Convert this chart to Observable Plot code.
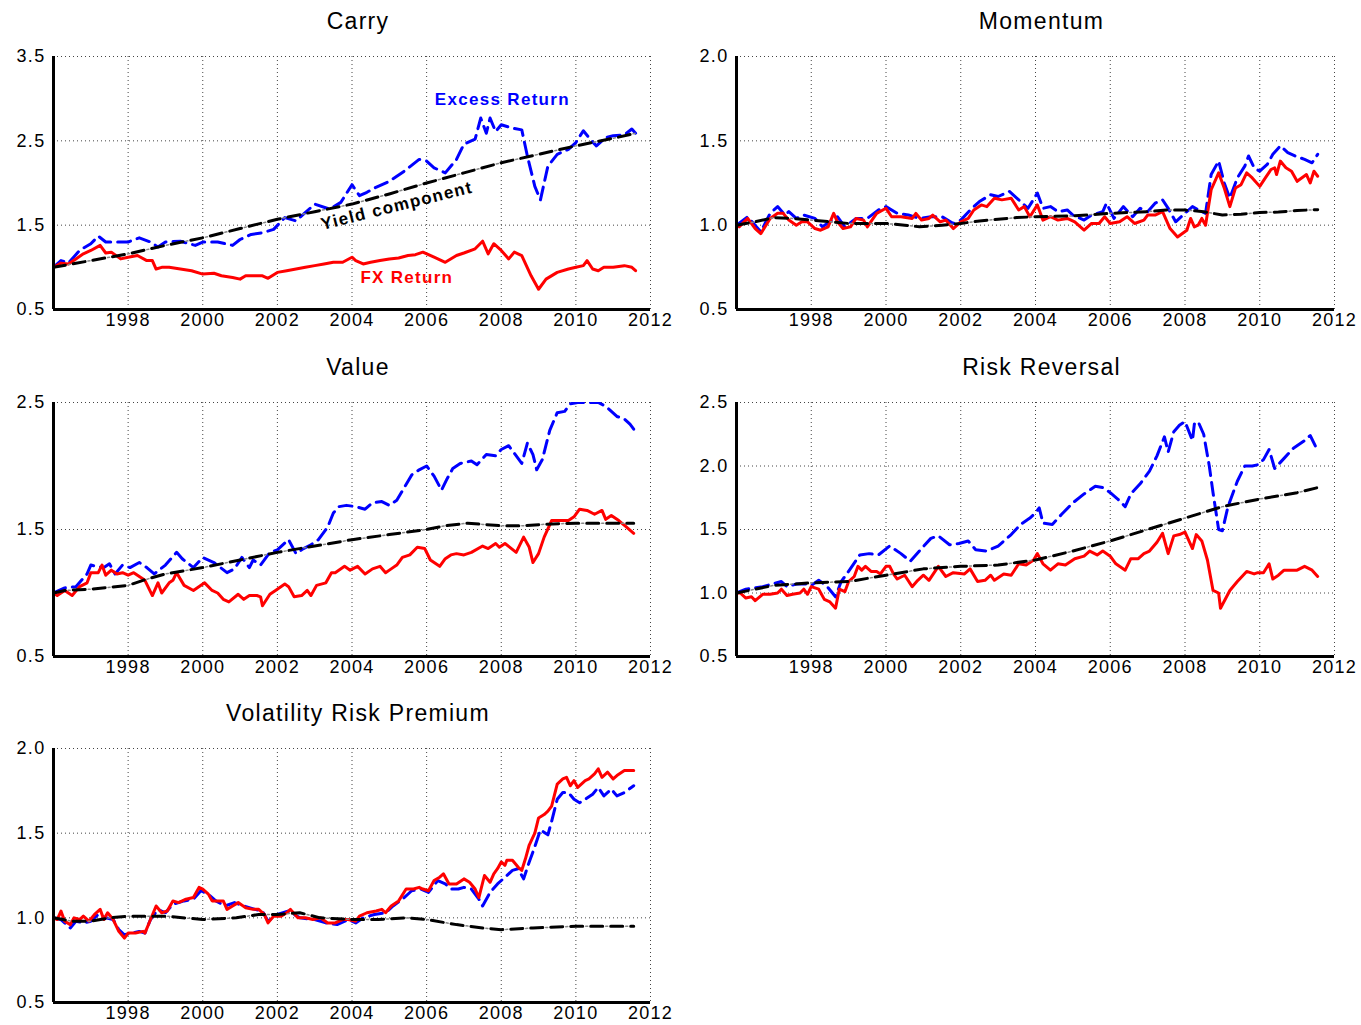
<!DOCTYPE html>
<html><head><meta charset="utf-8">
<script src="https://cdn.jsdelivr.net/npm/d3@7"></script>
<script src="https://cdn.jsdelivr.net/npm/@observablehq/plot@0.6"></script>
<style>
body{margin:0;background:#fff;}
#root{position:relative;width:1361px;height:1025px;overflow:hidden;}
.panel{position:absolute;}
</style></head><body><div id="root"></div>
<script>
// ---------- data: [year, cumulative value] ----------
const xTicks = [1998, 2000, 2002, 2004, 2006, 2008, 2010, 2012];

const carryExcess = [[1996.0,1.0],[1996.2,1.08],[1996.4,1.05],[1996.7,1.2],[1997.0,1.28],[1997.2,1.37],[1997.4,1.3],[1997.6,1.3],[1998.0,1.3],[1998.3,1.35],[1998.6,1.3],[1998.8,1.24],[1999.0,1.3],[1999.4,1.31],[1999.8,1.26],[2000.0,1.3],[2000.4,1.3],[2000.8,1.26],[2001.0,1.33],[2001.3,1.39],[2001.6,1.41],[2001.9,1.45],[2002.2,1.59],[2002.5,1.55],[2002.7,1.63],[2003.0,1.75],[2003.4,1.69],[2003.7,1.77],[2004.0,1.98],[2004.2,1.85],[2004.4,1.89],[2004.6,1.94],[2005.0,2.02],[2005.4,2.14],[2005.8,2.28],[2006.0,2.26],[2006.2,2.18],[2006.5,2.12],[2006.8,2.28],[2007.0,2.46],[2007.3,2.52],[2007.45,2.77],[2007.6,2.59],[2007.7,2.77],[2007.85,2.61],[2008.0,2.69],[2008.3,2.65],[2008.55,2.63],[2008.7,2.32],[2008.9,1.96],[2009.05,1.8],[2009.25,2.2],[2009.5,2.34],[2009.8,2.4],[2010.0,2.48],[2010.2,2.62],[2010.4,2.51],[2010.55,2.44],[2010.8,2.54],[2011.0,2.56],[2011.3,2.57],[2011.5,2.64],[2011.6,2.59]];
const carryFX = [[1996.0,1.0],[1996.2,1.05],[1996.4,1.04],[1996.6,1.1],[1996.8,1.16],[1997.0,1.2],[1997.25,1.26],[1997.4,1.17],[1997.55,1.18],[1997.8,1.1],[1998.0,1.12],[1998.25,1.14],[1998.5,1.08],[1998.65,1.08],[1998.75,0.98],[1998.9,1.0],[1999.1,1.0],[1999.4,0.98],[1999.7,0.96],[2000.0,0.92],[2000.3,0.93],[2000.5,0.9],[2000.8,0.88],[2001.0,0.86],[2001.15,0.9],[2001.4,0.9],[2001.6,0.9],[2001.75,0.87],[2002.0,0.94],[2002.25,0.96],[2002.5,0.98],[2002.75,1.0],[2003.0,1.02],[2003.25,1.04],[2003.5,1.06],[2003.75,1.06],[2004.0,1.12],[2004.1,1.08],[2004.3,1.04],[2004.5,1.06],[2004.75,1.08],[2005.0,1.1],[2005.25,1.11],[2005.5,1.14],[2005.7,1.15],[2005.9,1.18],[2006.2,1.12],[2006.5,1.06],[2006.8,1.14],[2007.0,1.17],[2007.3,1.22],[2007.5,1.31],[2007.65,1.16],[2007.8,1.28],[2008.0,1.2],[2008.2,1.1],[2008.35,1.18],[2008.55,1.14],[2008.8,0.9],[2009.0,0.74],[2009.2,0.86],[2009.5,0.94],[2009.8,0.98],[2010.0,1.0],[2010.2,1.02],[2010.3,1.08],[2010.45,0.98],[2010.6,0.96],[2010.75,1.0],[2011.0,1.0],[2011.3,1.02],[2011.5,1.0],[2011.6,0.96]];
const carryYield = [[1996.0,1.0],[1997.0,1.08],[1998.0,1.16],[1999.0,1.26],[2000.0,1.35],[2001.0,1.46],[2002.0,1.57],[2003.0,1.66],[2004.0,1.75],[2005.0,1.87],[2006.0,2.0],[2007.0,2.12],[2008.0,2.24],[2009.0,2.34],[2010.0,2.44],[2011.0,2.53],[2011.6,2.59]];

const momExcess = [[1996.0,1.0],[1996.3,1.05],[1996.65,0.96],[1996.9,1.07],[1997.1,1.11],[1997.3,1.06],[1997.4,1.08],[1997.6,1.04],[1997.8,1.06],[1998.1,1.04],[1998.3,0.99],[1998.5,1.02],[1998.7,1.05],[1998.9,0.99],[1999.2,1.04],[1999.5,1.04],[1999.8,1.09],[2000.0,1.11],[2000.3,1.07],[2000.6,1.06],[2000.9,1.04],[2001.2,1.05],[2001.5,1.05],[2001.8,1.01],[2002.0,1.03],[2002.3,1.1],[2002.5,1.14],[2002.8,1.18],[2003.0,1.17],[2003.3,1.2],[2003.6,1.14],[2003.8,1.1],[2004.05,1.19],[2004.2,1.1],[2004.4,1.11],[2004.6,1.08],[2004.85,1.09],[2005.0,1.06],[2005.3,1.03],[2005.5,1.06],[2005.8,1.08],[2005.9,1.13],[2006.1,1.04],[2006.35,1.11],[2006.6,1.05],[2006.8,1.1],[2007.0,1.08],[2007.2,1.13],[2007.4,1.15],[2007.55,1.1],[2007.75,1.02],[2008.0,1.07],[2008.2,1.11],[2008.45,1.08],[2008.55,1.07],[2008.7,1.3],[2008.9,1.38],[2009.05,1.25],[2009.2,1.16],[2009.4,1.28],[2009.6,1.35],[2009.7,1.41],[2009.85,1.34],[2010.0,1.32],[2010.2,1.36],[2010.35,1.42],[2010.55,1.47],[2010.75,1.43],[2010.95,1.41],[2011.2,1.39],[2011.4,1.37],[2011.55,1.42]];
const momFX = [[1996.0,1.0],[1996.07,0.99],[1996.3,1.04],[1996.5,0.98],[1996.65,0.95],[1996.9,1.04],[1997.1,1.07],[1997.25,1.07],[1997.4,1.03],[1997.6,1.0],[1997.75,1.02],[1997.9,1.02],[1998.1,0.98],[1998.25,0.97],[1998.45,0.99],[1998.6,1.07],[1998.7,1.02],[1998.85,0.98],[1999.05,0.99],[1999.2,1.04],[1999.4,1.03],[1999.5,0.99],[1999.75,1.07],[2000.0,1.1],[2000.15,1.05],[2000.4,1.05],[2000.7,1.04],[2000.8,1.07],[2000.95,1.03],[2001.15,1.04],[2001.25,1.06],[2001.45,1.02],[2001.6,1.03],[2001.8,0.98],[2002.0,1.02],[2002.2,1.04],[2002.35,1.09],[2002.55,1.12],[2002.7,1.11],[2002.9,1.16],[2003.1,1.15],[2003.35,1.16],[2003.55,1.09],[2003.7,1.11],[2003.85,1.05],[2004.05,1.12],[2004.2,1.03],[2004.4,1.05],[2004.6,1.03],[2004.85,1.04],[2005.05,1.02],[2005.3,0.97],[2005.5,1.01],[2005.7,1.01],[2005.85,1.05],[2006.0,1.01],[2006.25,1.02],[2006.45,1.05],[2006.65,1.01],[2006.9,1.03],[2007.0,1.06],[2007.2,1.06],[2007.4,1.08],[2007.6,0.98],[2007.8,0.93],[2008.05,0.97],[2008.15,1.04],[2008.25,0.99],[2008.35,1.0],[2008.45,1.04],[2008.55,1.0],[2008.7,1.21],[2008.9,1.31],[2009.05,1.22],[2009.2,1.11],[2009.35,1.22],[2009.5,1.24],[2009.65,1.31],[2009.8,1.28],[2010.0,1.23],[2010.15,1.28],[2010.3,1.33],[2010.4,1.34],[2010.45,1.3],[2010.55,1.38],[2010.7,1.34],[2010.85,1.32],[2011.0,1.26],[2011.25,1.3],[2011.35,1.25],[2011.45,1.32],[2011.55,1.29]];
const momYield = [[1996.0,1.0],[1996.5,1.02],[1997.0,1.045],[1997.5,1.04],[1998.0,1.03],[1998.5,1.02],[1999.0,1.01],[1999.5,1.01],[2000.0,1.01],[2000.5,1.0],[2000.9,0.99],[2001.5,1.0],[2002.0,1.01],[2002.5,1.025],[2003.0,1.035],[2003.5,1.045],[2004.0,1.05],[2005.0,1.055],[2006.0,1.07],[2006.5,1.075],[2007.0,1.08],[2007.5,1.09],[2008.0,1.09],[2008.5,1.08],[2009.0,1.06],[2009.5,1.065],[2010.0,1.075],[2010.5,1.078],[2011.0,1.087],[2011.55,1.092]];

const valExcess = [[1996.0,1.0],[1996.3,1.04],[1996.6,1.05],[1996.9,1.15],[1997.0,1.22],[1997.15,1.21],[1997.35,1.2],[1997.5,1.23],[1997.65,1.15],[1997.85,1.22],[1998.05,1.2],[1998.3,1.24],[1998.5,1.2],[1998.7,1.15],[1999.0,1.22],[1999.3,1.32],[1999.45,1.27],[1999.75,1.2],[2000.0,1.28],[2000.3,1.24],[2000.65,1.16],[2000.85,1.19],[2001.05,1.28],[2001.25,1.2],[2001.35,1.26],[2001.55,1.22],[2001.8,1.32],[2002.0,1.34],[2002.3,1.42],[2002.5,1.31],[2002.7,1.35],[2002.9,1.38],[2003.1,1.42],[2003.35,1.52],[2003.5,1.63],[2003.65,1.68],[2003.85,1.69],[2004.1,1.68],[2004.35,1.66],[2004.55,1.71],[2004.8,1.72],[2005.0,1.69],[2005.2,1.73],[2005.4,1.83],[2005.6,1.93],[2005.8,1.97],[2006.0,2.0],[2006.2,1.92],[2006.4,1.81],[2006.55,1.9],[2006.7,1.98],[2006.9,2.02],[2007.2,2.04],[2007.35,2.01],[2007.6,2.09],[2007.85,2.08],[2008.0,2.13],[2008.2,2.16],[2008.35,2.1],[2008.55,2.02],[2008.7,2.18],[2008.85,2.09],[2008.95,1.97],[2009.1,2.05],[2009.3,2.28],[2009.5,2.42],[2009.7,2.43],[2009.85,2.49],[2010.05,2.5],[2010.6,2.5],[2010.8,2.47],[2011.1,2.39],[2011.3,2.37],[2011.45,2.33],[2011.55,2.29]];
const valFX = [[1996.0,1.0],[1996.1,0.98],[1996.3,1.02],[1996.5,0.98],[1996.7,1.05],[1996.9,1.08],[1997.0,1.16],[1997.2,1.16],[1997.3,1.22],[1997.4,1.14],[1997.55,1.18],[1997.7,1.15],[1997.85,1.16],[1998.0,1.14],[1998.15,1.16],[1998.45,1.1],[1998.65,0.98],[1998.8,1.08],[1998.9,1.0],[1999.1,1.08],[1999.2,1.1],[1999.3,1.16],[1999.5,1.06],[1999.75,1.02],[2000.05,1.08],[2000.25,1.02],[2000.4,1.0],[2000.55,0.95],[2000.7,0.93],[2000.95,0.99],[2001.1,0.95],[2001.25,0.98],[2001.45,0.98],[2001.55,0.97],[2001.6,0.9],[2001.8,0.99],[2001.95,1.02],[2002.2,1.07],[2002.3,1.05],[2002.45,0.97],[2002.65,0.98],[2002.8,1.02],[2002.9,0.98],[2003.05,1.06],[2003.3,1.08],[2003.45,1.16],[2003.55,1.16],[2003.8,1.21],[2003.95,1.18],[2004.15,1.21],[2004.35,1.15],[2004.55,1.19],[2004.75,1.21],[2004.9,1.16],[2005.05,1.19],[2005.2,1.22],[2005.35,1.28],[2005.55,1.3],[2005.75,1.36],[2005.95,1.35],[2006.1,1.26],[2006.35,1.21],[2006.5,1.27],[2006.65,1.3],[2006.8,1.31],[2007.0,1.3],[2007.2,1.32],[2007.5,1.37],[2007.65,1.35],[2007.85,1.39],[2007.95,1.36],[2008.1,1.39],[2008.4,1.32],[2008.6,1.44],[2008.75,1.36],[2008.85,1.24],[2009.0,1.31],[2009.15,1.44],[2009.35,1.57],[2009.6,1.57],[2009.8,1.57],[2009.95,1.6],[2010.1,1.66],[2010.3,1.65],[2010.5,1.62],[2010.7,1.65],[2010.8,1.58],[2010.95,1.61],[2011.15,1.57],[2011.35,1.52],[2011.55,1.47]];
const valYield = [[1996.0,1.0],[1996.3,1.02],[1997.0,1.03],[1998.0,1.06],[1998.4,1.1],[1999.0,1.15],[2000.0,1.2],[2001.0,1.26],[2002.0,1.32],[2003.0,1.37],[2004.0,1.42],[2005.0,1.46],[2006.0,1.5],[2006.5,1.53],[2007.1,1.55],[2007.5,1.54],[2008.0,1.53],[2008.6,1.53],[2009.1,1.54],[2010.0,1.55],[2011.55,1.55]];

const rrExcess = [[1996.0,1.0],[1996.25,1.03],[1996.7,1.05],[1997.2,1.09],[1997.35,1.05],[1997.6,1.07],[1997.9,1.07],[1998.0,1.06],[1998.2,1.1],[1998.4,1.06],[1998.65,0.97],[1998.8,1.09],[1998.95,1.15],[1999.3,1.3],[1999.55,1.31],[1999.8,1.3],[2000.1,1.37],[2000.4,1.31],[2000.65,1.25],[2000.95,1.35],[2001.2,1.43],[2001.4,1.45],[2001.7,1.38],[2001.95,1.39],[2002.2,1.41],[2002.4,1.34],[2002.7,1.33],[2003.0,1.37],[2003.35,1.46],[2003.6,1.54],[2003.85,1.59],[2004.0,1.63],[2004.1,1.67],[2004.2,1.55],[2004.45,1.54],[2004.7,1.62],[2005.0,1.71],[2005.3,1.78],[2005.6,1.84],[2005.8,1.83],[2006.0,1.79],[2006.2,1.74],[2006.4,1.68],[2006.55,1.78],[2006.8,1.86],[2007.05,1.96],[2007.25,2.08],[2007.45,2.23],[2007.55,2.11],[2007.7,2.27],[2007.85,2.32],[2008.0,2.35],[2008.2,2.2],[2008.25,2.33],[2008.35,2.35],[2008.5,2.25],[2008.65,2.0],[2008.75,1.79],[2008.9,1.5],[2009.0,1.49],[2009.15,1.68],[2009.4,1.88],[2009.6,2.0],[2009.8,2.0],[2009.95,2.01],[2010.1,2.05],[2010.25,2.13],[2010.4,1.98],[2010.65,2.06],[2010.9,2.14],[2011.2,2.2],[2011.35,2.24],[2011.55,2.12]];
const rrFX = [[1996.0,1.0],[1996.1,1.0],[1996.25,0.96],[1996.4,0.97],[1996.5,0.94],[1996.7,0.99],[1996.9,0.99],[1997.1,1.0],[1997.2,1.03],[1997.35,0.98],[1997.5,0.99],[1997.7,1.0],[1997.8,1.03],[1997.9,0.99],[1998.0,1.05],[1998.2,1.03],[1998.35,0.95],[1998.5,0.93],[1998.65,0.88],[1998.75,1.03],[1998.9,1.01],[1999.0,1.09],[1999.15,1.13],[1999.25,1.21],[1999.35,1.18],[1999.45,1.21],[1999.6,1.17],[1999.75,1.17],[1999.85,1.15],[2000.0,1.21],[2000.1,1.21],[2000.2,1.15],[2000.3,1.11],[2000.5,1.14],[2000.7,1.05],[2000.85,1.1],[2001.0,1.14],[2001.15,1.1],[2001.4,1.21],[2001.6,1.13],[2001.8,1.16],[2002.1,1.15],[2002.25,1.19],[2002.45,1.09],[2002.65,1.1],[2002.8,1.14],[2002.9,1.1],[2003.15,1.15],[2003.35,1.14],[2003.55,1.23],[2003.75,1.22],[2003.95,1.26],[2004.05,1.31],[2004.2,1.23],[2004.4,1.18],[2004.6,1.23],[2004.8,1.22],[2005.05,1.27],[2005.3,1.29],[2005.45,1.33],[2005.65,1.3],[2005.8,1.33],[2006.0,1.29],[2006.15,1.23],[2006.4,1.18],[2006.55,1.27],[2006.75,1.27],[2006.9,1.31],[2007.05,1.33],[2007.25,1.4],[2007.4,1.47],[2007.55,1.31],[2007.7,1.45],[2007.85,1.46],[2008.0,1.48],[2008.2,1.35],[2008.3,1.46],[2008.45,1.41],[2008.6,1.26],[2008.75,1.02],[2008.9,1.0],[2008.95,0.88],[2009.2,1.02],[2009.4,1.09],[2009.65,1.17],[2009.85,1.15],[2009.95,1.16],[2010.1,1.16],[2010.25,1.23],[2010.35,1.11],[2010.5,1.14],[2010.65,1.18],[2011.0,1.18],[2011.2,1.21],[2011.4,1.18],[2011.55,1.13]];
const rrYield = [[1996.0,1.0],[1997.0,1.06],[1998.0,1.08],[1999.0,1.09],[2000.0,1.14],[2001.0,1.19],[2002.0,1.21],[2003.0,1.22],[2004.0,1.26],[2005.0,1.33],[2006.0,1.41],[2007.0,1.5],[2008.0,1.59],[2009.0,1.68],[2010.0,1.74],[2011.0,1.79],[2011.55,1.83]];

const vrpExcess = [[1996.0,1.0],[1996.2,0.99],[1996.45,0.94],[1996.6,0.98],[1996.8,0.97],[1997.0,0.98],[1997.2,1.02],[1997.4,1.0],[1997.6,0.99],[1997.75,0.93],[1997.9,0.9],[1998.1,0.91],[1998.3,0.92],[1998.45,0.91],[1998.6,0.99],[1998.8,1.05],[1999.0,1.03],[1999.2,1.08],[1999.5,1.1],[1999.75,1.11],[1999.95,1.16],[2000.15,1.14],[2000.35,1.1],[2000.6,1.07],[2000.85,1.09],[2001.1,1.07],[2001.4,1.05],[2001.6,1.04],[2001.75,0.98],[2002.0,1.02],[2002.3,1.04],[2002.6,1.0],[2003.0,0.99],[2003.3,0.97],[2003.6,0.96],[2003.9,0.99],[2004.1,0.97],[2004.3,1.0],[2004.6,1.02],[2004.9,1.03],[2005.1,1.07],[2005.35,1.11],[2005.6,1.16],[2005.85,1.17],[2006.05,1.15],[2006.3,1.22],[2006.5,1.2],[2006.65,1.17],[2006.85,1.17],[2007.0,1.18],[2007.2,1.17],[2007.4,1.11],[2007.5,1.07],[2007.7,1.15],[2007.9,1.2],[2008.15,1.25],[2008.3,1.28],[2008.45,1.29],[2008.6,1.23],[2008.75,1.33],[2008.9,1.42],[2009.05,1.52],[2009.25,1.49],[2009.35,1.57],[2009.5,1.7],[2009.65,1.74],[2009.8,1.74],[2009.95,1.7],[2010.1,1.68],[2010.25,1.7],[2010.45,1.73],[2010.6,1.77],[2010.75,1.72],[2010.95,1.76],[2011.1,1.72],[2011.3,1.74],[2011.55,1.78]];
const vrpFX = [[1996.0,1.0],[1996.1,0.99],[1996.2,1.04],[1996.3,0.98],[1996.45,0.96],[1996.55,1.0],[1996.7,0.99],[1996.8,1.01],[1996.95,0.98],[1997.1,1.02],[1997.25,1.05],[1997.35,0.99],[1997.45,1.03],[1997.6,0.99],[1997.75,0.92],[1997.9,0.88],[1998.0,0.91],[1998.2,0.91],[1998.4,0.92],[1998.45,0.91],[1998.6,0.99],[1998.75,1.07],[1998.9,1.03],[1999.05,1.04],[1999.2,1.1],[1999.35,1.09],[1999.55,1.11],[1999.75,1.12],[1999.9,1.18],[2000.0,1.17],[2000.15,1.14],[2000.25,1.1],[2000.4,1.1],[2000.55,1.1],[2000.65,1.05],[2000.8,1.07],[2000.95,1.09],[2001.15,1.06],[2001.35,1.05],[2001.5,1.05],[2001.65,1.02],[2001.75,0.97],[2001.9,1.01],[2002.1,1.01],[2002.25,1.03],[2002.35,1.05],[2002.55,1.0],[2002.75,1.0],[2002.95,0.99],[2003.15,1.0],[2003.35,0.97],[2003.55,0.97],[2003.75,0.99],[2003.9,0.99],[2004.1,0.98],[2004.2,1.01],[2004.4,1.03],[2004.65,1.04],[2004.8,1.05],[2004.9,1.03],[2005.05,1.07],[2005.25,1.1],[2005.45,1.17],[2005.65,1.17],[2005.8,1.18],[2005.9,1.17],[2006.05,1.16],[2006.2,1.22],[2006.35,1.24],[2006.45,1.26],[2006.6,1.2],[2006.8,1.2],[2007.0,1.23],[2007.15,1.21],[2007.3,1.17],[2007.4,1.12],[2007.55,1.25],[2007.7,1.21],[2007.8,1.26],[2007.9,1.29],[2008.0,1.33],[2008.1,1.31],[2008.15,1.34],[2008.3,1.34],[2008.45,1.3],[2008.55,1.28],[2008.65,1.35],[2008.75,1.43],[2008.9,1.5],[2009.0,1.59],[2009.15,1.61],[2009.25,1.63],[2009.35,1.66],[2009.5,1.79],[2009.65,1.82],[2009.75,1.83],[2009.85,1.78],[2009.95,1.81],[2010.05,1.77],[2010.25,1.81],[2010.35,1.82],[2010.5,1.85],[2010.6,1.88],[2010.7,1.83],[2010.85,1.86],[2011.0,1.82],[2011.1,1.84],[2011.3,1.87],[2011.45,1.87],[2011.55,1.87]];
const vrpYield = [[1996.0,1.0],[1996.5,0.98],[1997.0,0.98],[1997.5,1.0],[1998.0,1.01],[1999.0,1.01],[2000.0,0.99],[2000.9,1.0],[2001.5,1.02],[2002.0,1.02],[2002.6,1.03],[2003.15,1.0],[2004.0,0.99],[2004.7,0.99],[2005.5,1.0],[2006.0,0.99],[2006.8,0.96],[2007.5,0.94],[2008.0,0.93],[2008.85,0.94],[2010.0,0.95],[2010.9,0.95],[2011.55,0.95]];

// Carry annotations
const carryLabelText = ["Excess Return", "Yield component", "FX Return"];
const carryLabelYear = [2008.03, 2005.2, 2005.47];
const carryLabelValue = [2.99, 1.73, 0.88];

// ---------- layout ----------
const FONT = "'Liberation Sans', Arial, Helvetica, sans-serif";
const panels = [
  {title: "Carry", left: 0, top: 0, width: 683, height: 340, mb: 31, yDomain: [0.5, 3.5], yTicks: [0.5, 1.5, 2.5, 3.5], ex: carryExcess, fx: carryFX, yc: carryYield, labels: true},
  {title: "Momentum", left: 683, top: 0, width: 678, height: 340, mb: 31, yDomain: [0.5, 2.0], yTicks: [0.5, 1.0, 1.5, 2.0], ex: momExcess, fx: momFX, yc: momYield},
  {title: "Value", left: 0, top: 346, width: 683, height: 340, mb: 30, yDomain: [0.5, 2.5], yTicks: [0.5, 1.5, 2.5], ex: valExcess, fx: valFX, yc: valYield},
  {title: "Risk Reversal", left: 683, top: 346, width: 678, height: 340, mb: 30, yDomain: [0.5, 2.5], yTicks: [0.5, 1.0, 1.5, 2.0, 2.5], ex: rrExcess, fx: rrFX, yc: rrYield},
  {title: "Volatility Risk Premium", left: 0, top: 692, width: 683, height: 333, mb: 23, yDomain: [0.5, 2.0], yTicks: [0.5, 1.0, 1.5, 2.0], ex: vrpExcess, fx: vrpFX, yc: vrpYield}
];

const toRows = arr => arr.map(([t, v]) => ({t, v}));
const root = document.getElementById("root");

for (const p of panels) {
  const marginLeft = 53;
  const innerW = p.width === 683 ? 597 : 598;
  const marks = [
    Plot.gridX(xTicks, {stroke: "#444", strokeOpacity: 1, strokeWidth: 1, strokeDasharray: "1,3"}),
    Plot.gridY(p.yTicks, {stroke: "#444", strokeOpacity: 1, strokeWidth: 1, strokeDasharray: "1,3"}),
    Plot.line(toRows(p.ex), {x: "t", y: "v", stroke: "#0000ff", strokeWidth: 3, strokeDasharray: "13,7", clip: true}),
    Plot.line(toRows(p.fx), {x: "t", y: "v", stroke: "#ff0000", strokeWidth: 3, clip: true}),
    Plot.line(toRows(p.yc), {x: "t", y: "v", stroke: "#000", strokeWidth: 3, strokeDasharray: "12,8", clip: true}),
    Plot.line(toRows(p.yc), {x: "t", y: "v", stroke: "#888", strokeWidth: 1.5, strokeDasharray: "2,18", strokeDashoffset: -15, clip: true}),
    Plot.ruleX([1996], {stroke: "#000", strokeWidth: 3}),
    Plot.ruleY([p.yDomain[0]], {stroke: "#000", strokeWidth: 3}),
    Plot.axisX({ticks: xTicks, tickSize: 0, tickPadding: 4, tickFormat: d => String(d), label: null}),
    Plot.axisY({ticks: p.yTicks, tickSize: 0, tickPadding: 8, tickFormat: d3.format(".1f"), label: null}),
    Plot.text([p.title], {frameAnchor: "top", dy: -44, dx: 6, fontSize: 23, fill: "#000", ariaLabel: "title"})
  ];
  if (p.labels) {
    const lab = carryLabelText.map((s, i) => ({s, t: carryLabelYear[i], v: carryLabelValue[i]}));
    marks.push(
      Plot.text([lab[0]], {x: "t", y: "v", text: "s", fill: "#0000ff", fontSize: 17, fontWeight: "bold", ariaLabel: "annot"}),
      Plot.text([lab[1]], {x: "t", y: "v", text: "s", fill: "#000", fontSize: 17, fontWeight: "bold", rotate: -14, ariaLabel: "annot"}),
      Plot.text([lab[2]], {x: "t", y: "v", text: "s", fill: "#ff0000", fontSize: 17, fontWeight: "bold", ariaLabel: "annot"})
    );
  }
  const svg = Plot.plot({
    width: p.width,
    height: p.height,
    marginLeft,
    marginRight: p.width - marginLeft - innerW,
    marginTop: 56,
    marginBottom: p.mb,
    x: {domain: [1996, 2012], label: null},
    y: {domain: p.yDomain, label: null},
    style: {fontFamily: FONT, fontSize: "18px", color: "#000", background: "#fff", overflow: "visible", letterSpacing: "1.3px"},
    marks
  });
  d3.select(svg).selectAll('g[aria-label="title"] text').style("letter-spacing", "4px");
  d3.select(svg).selectAll('g[aria-label="annot"] text').style("letter-spacing", "2px");
  const div = document.createElement("div");
  div.className = "panel";
  div.style.left = p.left + "px";
  div.style.top = p.top + "px";
  div.appendChild(svg);
  root.appendChild(div);
}
</script>
</body></html>
